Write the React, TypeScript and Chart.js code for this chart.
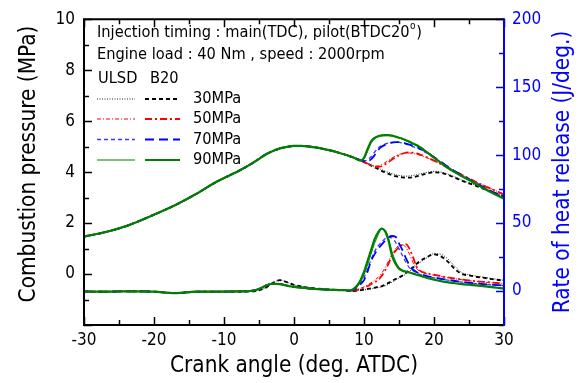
import React, { useEffect, useRef } from "react";
import { Chart, registerables } from "chart.js";
Chart.register(...registerables);

const FONT = '"DejaVu Sans Condensed", "DejaVu Sans", sans-serif';

// ---------------- data ----------------
const ANGLE_EARLY = [-30, -27, -24, -20, -17, -14, -11, -8, -6, -5, -4, -3, -2, -1, 0, 1, 2, 3, 4, 5, 6, 7];
const ANGLE_MAIN = [8, 8.5, 9, 9.5, 10, 10.5, 11, 11.5, 12, 12.5, 13, 13.5, 14, 14.5, 15, 15.5, 16, 16.5, 17, 17.5, 18, 19, 20, 21, 22, 23, 24, 25, 26, 27, 28, 29, 30];

// combustion pressure (MPa), common compression part
const PRESSURE_EARLY = [1.47, 1.64, 1.88, 2.33, 2.70, 3.14, 3.63, 4.03, 4.34, 4.52, 4.70, 4.83, 4.93, 4.99, 5.03, 5.03, 5.01, 4.97, 4.92, 4.86, 4.79, 4.71];

const P_ULSD_30 = [4.62, 4.57, 4.52, 4.47, 4.41, 4.35, 4.28, 4.22, 4.16, 4.10, 4.04, 3.99, 3.94, 3.90, 3.87, 3.85, 3.84, 3.85, 3.87, 3.90, 3.93, 3.99, 4.03, 4.00, 3.92, 3.81, 3.69, 3.58, 3.48, 3.37, 3.27, 3.17, 3.08];
const P_B20_30 = [4.62, 4.57, 4.52, 4.46, 4.40, 4.33, 4.26, 4.19, 4.12, 4.05, 3.99, 3.93, 3.88, 3.84, 3.81, 3.79, 3.78, 3.78, 3.80, 3.83, 3.87, 3.94, 3.99, 3.97, 3.89, 3.78, 3.66, 3.56, 3.46, 3.35, 3.25, 3.15, 3.05];
const P_ULSD_50 = [4.62, 4.57, 4.52, 4.46, 4.40, 4.34, 4.28, 4.24, 4.24, 4.29, 4.37, 4.46, 4.55, 4.63, 4.69, 4.73, 4.75, 4.75, 4.73, 4.70, 4.66, 4.56, 4.44, 4.31, 4.18, 4.04, 3.90, 3.76, 3.62, 3.49, 3.37, 3.25, 3.14];
const P_B20_50 = [4.62, 4.57, 4.52, 4.46, 4.40, 4.33, 4.26, 4.21, 4.20, 4.23, 4.30, 4.39, 4.49, 4.58, 4.66, 4.72, 4.76, 4.77, 4.76, 4.73, 4.69, 4.58, 4.45, 4.31, 4.17, 4.03, 3.89, 3.75, 3.61, 3.48, 3.36, 3.24, 3.12];
const P_ULSD_70 = [4.62, 4.57, 4.52, 4.48, 4.45, 4.48, 4.60, 4.78, 4.94, 5.04, 5.10, 5.14, 5.17, 5.18, 5.17, 5.14, 5.10, 5.05, 5.00, 4.95, 4.89, 4.74, 4.57, 4.38, 4.20, 4.02, 3.86, 3.71, 3.56, 3.41, 3.27, 3.14, 3.02];
const P_B20_70 = [4.62, 4.57, 4.52, 4.47, 4.43, 4.43, 4.50, 4.66, 4.86, 4.99, 5.07, 5.12, 5.16, 5.18, 5.18, 5.16, 5.12, 5.08, 5.03, 4.98, 4.92, 4.77, 4.59, 4.40, 4.21, 4.03, 3.87, 3.72, 3.57, 3.42, 3.28, 3.15, 3.03];
const P_ULSD_90 = [4.62, 4.57, 4.51, 4.47, 4.52, 4.80, 5.12, 5.30, 5.38, 5.42, 5.43, 5.43, 5.42, 5.38, 5.34, 5.29, 5.23, 5.17, 5.10, 5.03, 4.96, 4.76, 4.55, 4.35, 4.15, 3.98, 3.83, 3.68, 3.52, 3.37, 3.22, 3.08, 2.95];
const P_B20_90 = [4.62, 4.57, 4.50, 4.45, 4.56, 4.90, 5.20, 5.34, 5.41, 5.44, 5.45, 5.45, 5.43, 5.39, 5.35, 5.31, 5.25, 5.19, 5.12, 5.06, 4.98, 4.78, 4.57, 4.36, 4.16, 3.99, 3.84, 3.69, 3.53, 3.38, 3.23, 3.09, 2.96];

// rate of heat release (J/deg.), early part (pilot)
const HRR_EARLY = [-0.3, -0.5, -0.2, -0.5, -1.6, -0.5, -0.4, -0.3, 0.2, 1.5, 4, 5.5, 5, 4, 3, 2.5, 2, 1.5, 1.2, 1, 0.8, 0.6];
const HRR_EARLY_30 = [-0.3, -0.5, -0.2, -0.5, -1.6, -0.5, -0.4, -0.5, -0.3, 0.5, 2.5, 6, 8, 6.5, 4.5, 3.5, 2.5, 2, 1.5, 1.1, 0.8, 0.6];

const H_ULSD_30 = [0, 0, 0.2, 0.5, 0.8, 1.2, 1.6, 2, 2.5, 3, 3.8, 5, 6.5, 8, 9.5, 11, 12.5, 14.5, 16.5, 19, 21, 24.5, 27.5, 27, 23.5, 18, 13.5, 12, 11, 10.2, 9.4, 8.6, 7.9];
const H_B20_30 = [0, 0, 0.3, 0.6, 1, 1.5, 2, 2.5, 3, 3.5, 4.5, 6, 7.5, 8.8, 10, 11.5, 13.5, 15.5, 17.5, 20, 22, 25, 27, 25.5, 21.5, 16, 12.5, 11.5, 10.5, 9.8, 9, 8.3, 7.6];
const H_ULSD_50 = [0, 0.5, 1, 2, 3, 4.5, 6, 8, 10, 13, 17, 22, 27, 31, 33.5, 34, 32, 27, 21, 16.5, 14.5, 12.6, 11.6, 10.6, 9.7, 9, 8.3, 7.6, 7, 6.6, 6.2, 5.8, 5.3];
const H_B20_50 = [0, 0.3, 0.8, 1.5, 2.5, 3.5, 5, 6.5, 8, 11, 15, 20, 26, 29.5, 32, 34, 34.5, 31, 25, 18, 15, 13, 12, 11, 10, 9.2, 8.5, 7.8, 7.2, 6.8, 6.4, 6, 5.4];
const H_ULSD_70 = [0.3, 1, 3, 6, 10, 16, 23, 29, 33, 36, 38.5, 39.5, 39, 36, 31, 26, 21, 17, 15, 13.5, 12.3, 10.8, 9.7, 8.8, 8, 7.2, 6.5, 5.9, 5.4, 5, 4.6, 4.3, 4];
const H_B20_70 = [0.3, 0.8, 2.5, 5, 8, 14, 22, 27, 31, 34, 37, 39.5, 40.5, 40, 35, 30, 24, 19, 16, 14, 12.7, 11, 10, 9, 8.2, 7.4, 6.7, 6.1, 5.6, 5.1, 4.7, 4.4, 4.1];
const H_ULSD_90 = [0.5, 1.2, 3, 6.5, 12, 19, 27, 35, 41, 45.5, 45, 39, 29, 22, 17.5, 15.5, 14.5, 13.8, 13, 12.2, 11.4, 9.8, 8.5, 7.4, 6.5, 5.8, 5.2, 4.7, 4.2, 3.7, 3.1, 2.5, 1.9];
const H_B20_90 = [0.5, 1.5, 4, 8, 14, 22, 30, 38, 43, 46, 44, 37, 26, 20, 16.5, 15, 14.2, 13.6, 12.8, 12, 11.2, 9.6, 8.3, 7.2, 6.4, 5.7, 5.1, 4.6, 4.1, 3.6, 3.0, 2.4, 1.8];

const INJ_LABELS = ["30MPa", "50MPa", "70MPa", "90MPa"];
const FUELS = ["ULSD", "B20"];
const X_TICKS = [-30, -20, -10, 0, 10, 20, 30];
const P_TICKS = [0, 2, 4, 6, 8, 10];
const H_TICKS = [0, 50, 100, 150, 200];

const TITLE_X = "Crank angle (deg. ATDC)";
const TITLE_P = "Combustion pressure (MPa)";
const TITLE_H = "Rate of heat release (J/deg.)";
const NOTE_1 = "Injection timing : main(TDC), pilot(BTDC20";
const NOTE_1_SUP = "o";
const NOTE_1_END = ")";
const NOTE_2 = "Engine load : 40 Nm , speed : 2000rpm";

// series table (index: injection 0..3, fuel 0..1)
const PRESSURE_SERIES = [
  [P_ULSD_30, P_B20_30],
  [P_ULSD_50, P_B20_50],
  [P_ULSD_70, P_B20_70],
  [P_ULSD_90, P_B20_90],
];
const HRR_SERIES = [
  [H_ULSD_30, H_B20_30],
  [H_ULSD_50, H_B20_50],
  [H_ULSD_70, H_B20_70],
  [H_ULSD_90, H_B20_90],
];
const HRR_EARLY_SERIES = [HRR_EARLY_30, HRR_EARLY, HRR_EARLY, HRR_EARLY];

// ---------------- styles ----------------
const STYLES = [
  [
    { color: "#222222", width: 1, dash: [1, 1.5] },
    { color: "#000000", width: 1.8, dash: [4, 3] },
  ],
  [
    { color: "#ff0000", width: 1, dash: [4, 2, 1, 2] },
    { color: "#ff0000", width: 1.8, dash: [7, 3, 2, 3] },
  ],
  [
    { color: "#3a3aff", width: 1.3, dash: [4, 3] },
    { color: "#0000ff", width: 1.8, dash: [9, 5] },
  ],
  [
    { color: "#008000", width: 1, dash: [] },
    { color: "#008000", width: 2.2, dash: [] },
  ],
];

function pts(xs: number[], ys: number[]) {
  return xs.map((x, i) => ({ x, y: ys[i] }));
}

function buildDatasets() {
  const out: any[] = [];
  // green first so it is drawn on top
  for (let inj = 3; inj >= 0; inj--) {
    for (let f = 1; f >= 0; f--) {
      const st = STYLES[inj][f];
      const base = {
        borderColor: st.color,
        borderWidth: st.width,
        borderDash: st.dash,
        pointRadius: 0,
        fill: false,
        cubicInterpolationMode: "monotone",
      };
      out.push({
        ...base,
        label: `${FUELS[f]} ${INJ_LABELS[inj]} pressure`,
        yAxisID: "y",
        data: pts(ANGLE_EARLY, PRESSURE_EARLY).concat(pts(ANGLE_MAIN, PRESSURE_SERIES[inj][f])),
      });
      out.push({
        ...base,
        label: `${FUELS[f]} ${INJ_LABELS[inj]} HRR`,
        yAxisID: "y2",
        data: pts(ANGLE_EARLY, HRR_EARLY_SERIES[inj]).concat(pts(ANGLE_MAIN, HRR_SERIES[inj][f])),
      });
    }
  }
  return out;
}

function fitSize(ctx: CanvasRenderingContext2D, text: string, target: number) {
  ctx.font = `100px ${FONT}`;
  return (100 * target) / ctx.measureText(text).width;
}

const overlay = {
  id: "overlay",
  afterDraw(chart: any) {
    const ctx: CanvasRenderingContext2D = chart.ctx;
    const ca = chart.chartArea;
    const xs = chart.scales.x;
    const ys = chart.scales.y;
    const hs = chart.scales.y2;
    ctx.save();
    ctx.setLineDash([]);
    ctx.lineCap = "butt";

    // ticks
    const MAJ = 8, MIN = 5;
    ctx.strokeStyle = "#000";
    ctx.lineWidth = 1.5;
    ctx.beginPath();
    for (let v = -30; v <= 30; v += 5) {
      const px = Math.round(xs.getPixelForValue(v)) + 0.5;
      const len = v % 10 === 0 ? MAJ : MIN;
      ctx.moveTo(px, ca.bottom);
      ctx.lineTo(px, ca.bottom - len);
      ctx.moveTo(px, ca.top);
      ctx.lineTo(px, ca.top + len);
    }
    for (let v = -2; v <= 10; v += 1) {
      const py = Math.round(ys.getPixelForValue(v)) + 0.5;
      const len = v % 2 === 0 ? MAJ : MIN;
      ctx.moveTo(ca.left, py);
      ctx.lineTo(ca.left + len, py);
    }
    ctx.stroke();
    ctx.strokeStyle = "#0000ff";
    ctx.beginPath();
    for (let v = -25; v <= 200; v += 25) {
      const py = Math.round(hs.getPixelForValue(v)) + 0.5;
      const len = v % 50 === 0 ? MAJ : MIN;
      ctx.moveTo(ca.right, py);
      ctx.lineTo(ca.right - len, py);
    }
    ctx.stroke();

    // frame
    ctx.lineWidth = 2;
    ctx.strokeStyle = "#000";
    ctx.beginPath();
    ctx.moveTo(ca.right, ca.top);
    ctx.lineTo(ca.left, ca.top);
    ctx.lineTo(ca.left, ca.bottom);
    ctx.lineTo(ca.right, ca.bottom);
    ctx.stroke();
    ctx.strokeStyle = "#0000ff";
    ctx.beginPath();
    ctx.moveTo(ca.right, ca.top - 1);
    ctx.lineTo(ca.right, ca.bottom + 1);
    ctx.stroke();

    // axis titles
    const ts = fitSize(ctx, TITLE_P, 277);
    ctx.font = `${ts}px ${FONT}`;
    ctx.textAlign = "center";
    ctx.textBaseline = "middle";
    ctx.fillStyle = "#000";
    ctx.fillText(TITLE_X, (ca.left + ca.right) / 2, 366);
    ctx.save();
    ctx.translate(29, 164);
    ctx.rotate(-Math.PI / 2);
    ctx.fillText(TITLE_P, 0, 0);
    ctx.restore();
    ctx.save();
    ctx.fillStyle = "#0000ff";
    ctx.translate(563, 172);
    ctx.rotate(-Math.PI / 2);
    ctx.fillText(TITLE_H, 0, 0);
    ctx.restore();

    // notes and legend
    const ns = fitSize(ctx, NOTE_2, 288);
    ctx.font = `${ns}px ${FONT}`;
    ctx.textAlign = "left";
    ctx.fillStyle = "#000";
    ctx.fillText(NOTE_1, 97, 33);
    let w = ctx.measureText(NOTE_1).width;
    ctx.font = `${ns * 0.62}px ${FONT}`;
    ctx.fillText(NOTE_1_SUP, 97 + w + 0.5, 33 - ns * 0.38);
    const w2 = ctx.measureText(NOTE_1_SUP).width;
    ctx.font = `${ns}px ${FONT}`;
    ctx.fillText(NOTE_1_END, 97 + w + w2 + 1, 33);
    ctx.fillText(NOTE_2, 97, 55);
    ctx.fillText(FUELS[0], 98, 79);
    ctx.fillText(FUELS[1], 150, 79);
    const rowY = [99, 119, 139.5, 160];
    const sx = [[97, 135], [145, 180]];
    for (let i = 0; i < 4; i++) {
      ctx.fillStyle = "#000";
      ctx.fillText(INJ_LABELS[i], 193, rowY[i]);
      for (let f = 0; f < 2; f++) {
        const st = STYLES[i][f];
        ctx.strokeStyle = st.color;
        ctx.lineWidth = st.width;
        ctx.setLineDash(st.dash);
        ctx.beginPath();
        ctx.moveTo(sx[f][0], rowY[i]);
        ctx.lineTo(sx[f][1], rowY[i]);
        ctx.stroke();
      }
    }
    ctx.restore();
  },
};

export default function App() {
  const ref = useRef<HTMLCanvasElement | null>(null);
  useEffect(() => {
    if (!ref.current) return;
    const tickFont = { family: FONT, size: 17 };
    const chart = new Chart(ref.current, {
      type: "line",
      data: { datasets: buildDatasets() },
      options: {
        responsive: false,
        animation: false,
        layout: { padding: { top: 16, left: 0, right: 0, bottom: 0 } },
        plugins: { legend: { display: false }, tooltip: { enabled: false } },
        scales: {
          x: {
            type: "linear",
            min: -30,
            max: 30,
            grid: { display: false, drawTicks: false },
            border: { display: false },
            ticks: { font: tickFont, color: "#000", padding: 5, callback: (v: any) => String(v) },
            afterBuildTicks: (s: any) => {
              s.ticks = X_TICKS.map((v) => ({ value: v }));
            },
            afterFit: (s: any) => {
              s.height = 58;
            },
          },
          y: {
            type: "linear",
            position: "left",
            min: -2,
            max: 10,
            grid: { display: false, drawTicks: false },
            border: { display: false },
            ticks: { font: tickFont, color: "#000", padding: 9, callback: (v: any) => String(v) },
            afterBuildTicks: (s: any) => {
              s.ticks = P_TICKS.map((v) => ({ value: v }));
            },
            afterFit: (s: any) => {
              s.width = 84;
            },
          },
          y2: {
            type: "linear",
            position: "right",
            min: -25,
            max: 200,
            grid: { display: false, drawTicks: false },
            border: { display: false },
            ticks: { font: tickFont, color: "#0000ff", padding: 8, callback: (v: any) => String(v) },
            afterBuildTicks: (s: any) => {
              s.ticks = H_TICKS.map((v) => ({ value: v }));
            },
            afterFit: (s: any) => {
              s.width = 78;
            },
          },
        },
      } as any,
      plugins: [overlay],
    });
    return () => chart.destroy();
  }, []);
  return (
    <div style={{ position: "absolute", left: 0, top: 0, width: 582, height: 383, background: "#fff" }}>
      <canvas ref={ref} width={582} height={383} />
    </div>
  );
}
